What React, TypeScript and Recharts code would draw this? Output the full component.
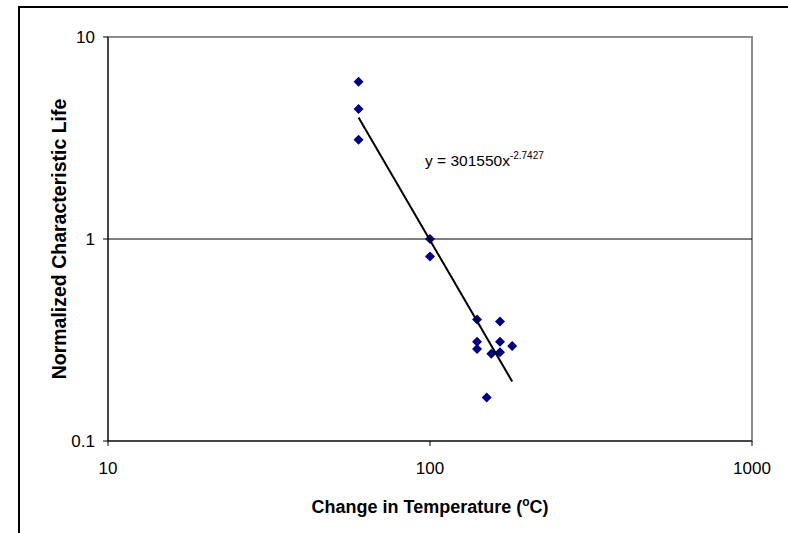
import {
  ScatterChart,
  Scatter,
  XAxis,
  YAxis,
  ReferenceLine,
  ReferenceArea,
  Label,
} from "recharts";

// temperature change (°C) vs normalized characteristic life
const tempValues = [60, 60, 60, 100, 100, 140, 140, 140, 150, 155, 165, 165, 165, 180];
const lifeValues = [6.0, 4.4, 3.1, 1.0, 0.82, 0.40, 0.31, 0.285, 0.164, 0.27, 0.39, 0.31, 0.275, 0.295];

// power-law trendline endpoints (straight in log-log)
const trendTemps = [60, 180];
const trendLife = [4.0, 0.197];

const xTicks = [10, 100, 1000];
const yTicks = [0.1, 1, 10];

const points = tempValues.map((x, i) => ({ x, y: lifeValues[i] }));
const trend = trendTemps.map((x, i) => ({ x, y: trendLife[i] }));

const FONT = "'Liberation Sans', Arial, sans-serif";

const Diamond = (props: any) => {
  const { cx, cy } = props;
  if (cx == null || cy == null) return <g />;
  const r = 5;
  return (
    <path
      d={`M${cx},${cy - r}L${cx + r},${cy}L${cx},${cy + r}L${cx - r},${cy}Z`}
      fill="#000080"
    />
  );
};

const XTitle = (props: any) => {
  const { viewBox } = props;
  const cx = viewBox.x + viewBox.width / 2;
  return (
    <text x={cx} y={viewBox.y + 72} textAnchor="middle" fontFamily={FONT} fontSize={18} fontWeight="bold" fill="#000">
      Change in Temperature (
      <tspan fontSize={12} dy={-7}>o</tspan>
      <tspan dy={7}>C)</tspan>
    </text>
  );
};

const YTitle = (props: any) => {
  const { viewBox } = props;
  const cy = viewBox.y + viewBox.height / 2;
  return (
    <text
      x={66}
      y={cy}
      transform={`rotate(-90, 66, ${cy})`}
      textAnchor="middle"
      fontFamily={FONT}
      fontSize={19.5}
      fontWeight="bold"
      fill="#000"
    >
      Normalized Characteristic Life
    </text>
  );
};

export default function App() {
  return (
    <div style={{ position: "absolute", left: 0, top: 0, width: 788, height: 533, background: "#fff" }}>
      <div
        style={{
          position: "absolute",
          left: 18,
          top: 6,
          width: 770,
          height: 527,
          borderTop: "2px solid #000",
          borderLeft: "2px solid #000",
        }}
      />
      <ScatterChart
        width={788}
        height={533}
        margin={{ top: 37, right: 36, bottom: 0, left: 0 }}
        style={{ position: "absolute", left: 0, top: 0 }}
      >
        <ReferenceArea
          x1={10}
          x2={1000}
          y1={0.1}
          y2={10}
          fill="none"
          stroke="#8c8c8c"
          strokeWidth={2}
          ifOverflow="visible"
        />
        <ReferenceLine y={1} stroke="#000" strokeWidth={1} />
        <XAxis
          type="number"
          dataKey="x"
          scale="log"
          domain={[10, 1000]}
          ticks={xTicks}
          allowDataOverflow
          height={92}
          tickSize={5}
          tickMargin={16}
          axisLine={{ stroke: "#000" }}
          tickLine={{ stroke: "#000" }}
          tick={{ fill: "#000", fontSize: 17, fontFamily: FONT }}
        >
          <Label content={<XTitle />} />
        </XAxis>
        <YAxis
          type="number"
          dataKey="y"
          scale="log"
          domain={[0.1, 10]}
          ticks={yTicks}
          allowDataOverflow
          width={108}
          tickSize={5}
          tickMargin={8}
          axisLine={{ stroke: "#000" }}
          tickLine={{ stroke: "#000" }}
          tick={{ fill: "#000", fontSize: 17, fontFamily: FONT }}
        >
          <Label content={<YTitle />} />
        </YAxis>
        <Scatter data={points} shape={<Diamond />} isAnimationActive={false} />
        <Scatter
          data={trend}
          line={{ stroke: "#000", strokeWidth: 2 }}
          shape={() => <g />}
          isAnimationActive={false}
        />
      </ScatterChart>
      <div
        style={{
          position: "absolute",
          left: 425,
          top: 152,
          fontFamily: FONT,
          fontSize: 15.5,
          lineHeight: "18px",
          color: "#000",
          whiteSpace: "nowrap",
        }}
      >
        y = 301550x
        <span style={{ fontSize: 10, position: "relative", top: -7 }}>-2.7427</span>
      </div>
    </div>
  );
}
